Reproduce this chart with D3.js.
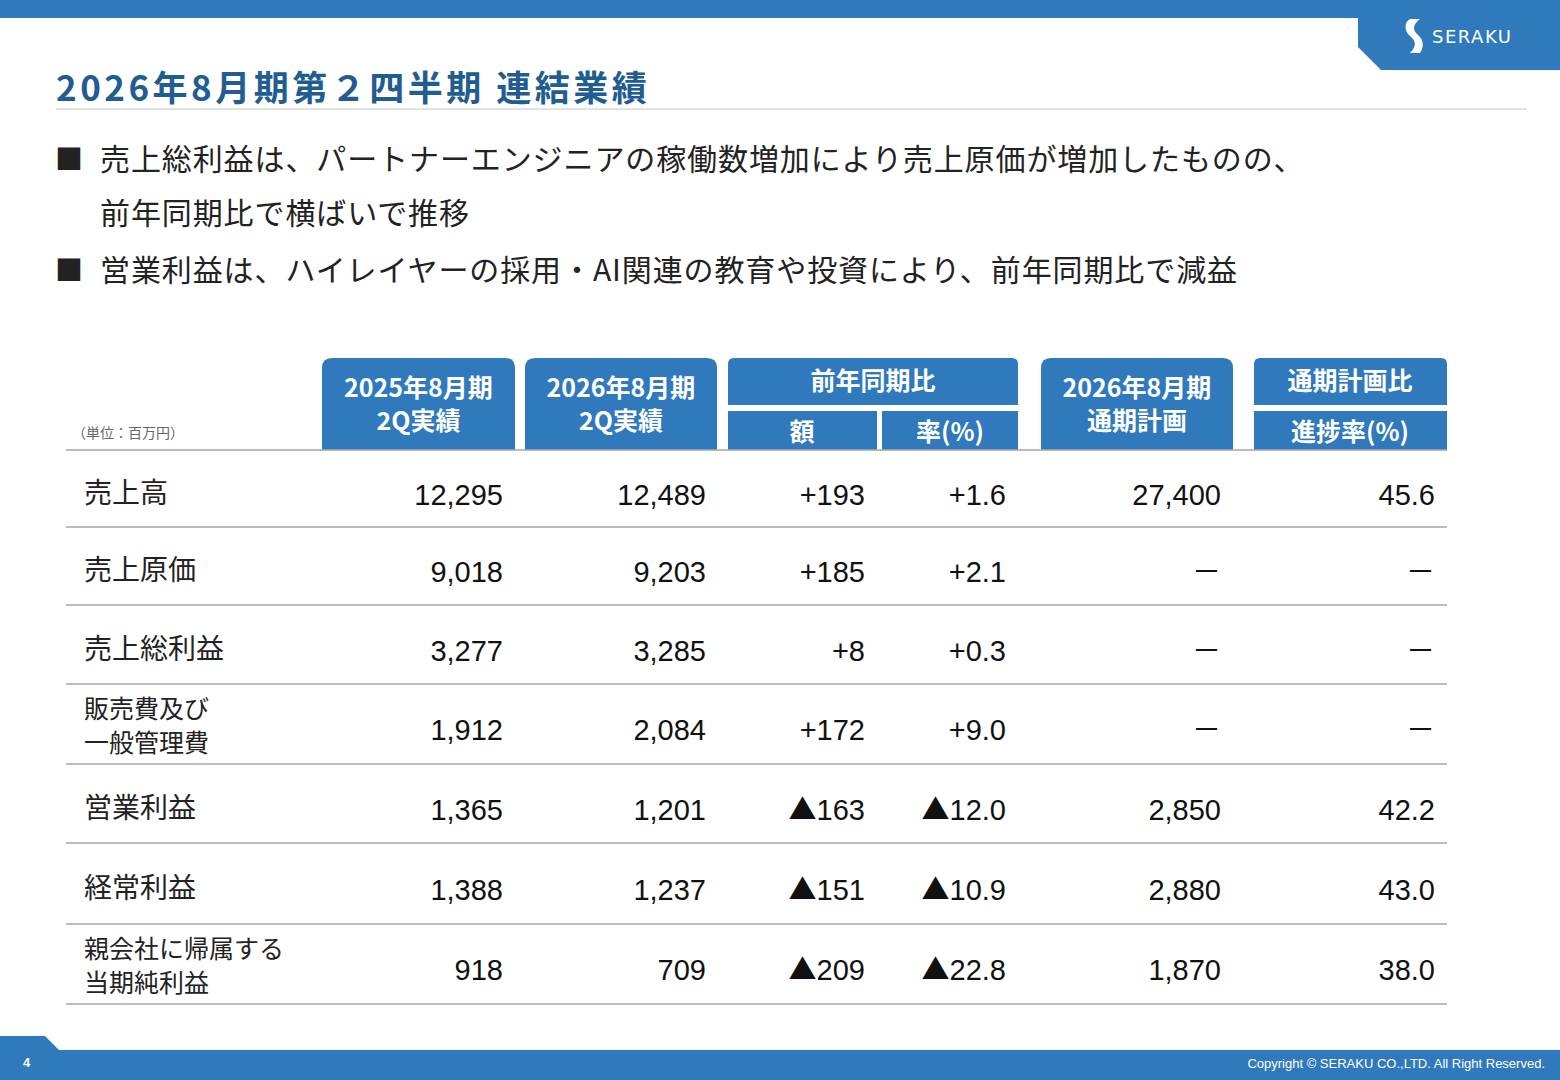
<!DOCTYPE html><html><head><meta charset="utf-8"><script src="https://cdn.jsdelivr.net/npm/d3@7"></script>
<style>body{margin:0;background:#fff}svg{display:block}</style></head><body><svg id="c" width="1560" height="1080"></svg>
<script>
const title="2026年8月期第２四半期 連結業績";
const bullets=[["■","売上総利益は、パートナーエンジニアの稼働数増加により売上原価が増加したものの、"],["","前年同期比で横ばいで推移"],["■","営業利益は、ハイレイヤーの採用・AI関連の教育や投資により、前年同期比で減益"]];
const rowLabels=[["売上高"],["売上原価"],["売上総利益"],["販売費及び","一般管理費"],["営業利益"],["経常利益"],["親会社に帰属する","当期純利益"]];
const prev2Q=["12,295","9,018","3,277","1,912","1,365","1,388","918"];
const curr2Q=["12,489","9,203","3,285","2,084","1,201","1,237","709"];
const diffAmt=["+193","+185","+8","+172","▲163","▲151","▲209"];
const diffRate=["+1.6","+2.1","+0.3","+9.0","▲12.0","▲10.9","▲22.8"];
const plan=["27,400","－","－","－","2,850","2,880","1,870"];
const progress=["45.6","－","－","－","42.2","43.0","38.0"];
const blue="#3079bd";
const svg=d3.select("#c");
const F="'Noto Sans CJK JP','Noto Sans',sans-serif";
const FN="'Liberation Sans',Arial,sans-serif";
svg.append("rect").attr("x",0).attr("y",0).attr("width",1560).attr("height",18).attr("fill",blue);
svg.append("path").attr("d","M1358,0H1560V70H1381L1358,47Z").attr("fill",blue);
svg.append("path").attr("d","M1410,19 C1404,22 1404,31 1410,36 C1416,41 1417,46 1410,53 L1420,53 C1424,47 1424,40 1418,35 C1412,30 1413,24 1420,19Z").attr("fill","#fff");
svg.append("text").attr("x",1432).attr("y",43).attr("font-family","'DejaVu Sans',sans-serif").attr("font-size",18).attr("letter-spacing",1.5).attr("fill","#fff").text("SERAKU");
svg.append("text").attr("x",56).attr("y",101).attr("font-family",F).attr("font-weight",700).attr("font-size",35).attr("letter-spacing",3.5).attr("fill","#215d90").text(title);
svg.append("line").attr("x1",56).attr("x2",1527).attr("y1",109).attr("y2",109).attr("stroke","#d9d9d9").attr("stroke-width",1.5);
const by=[170,224,281];
bullets.forEach((b,i)=>{
 svg.append("text").attr("x",55).attr("y",by[i]).attr("font-family",F).attr("font-size",28).attr("fill","#222").text(b[0]);
 svg.append("text").attr("x",100).attr("y",by[i]).attr("font-family",F).attr("font-size",30).attr("letter-spacing",0.9).attr("fill","#222").text(b[1]);
});
function hbox(x,y,w,h,r){return `M${x},${y+h}V${y+r}Q${x},${y} ${x+r},${y}H${x+w-r}Q${x+w},${y} ${x+w},${y+r}V${y+h}Z`;}
const hb=[[322,193],[525,192],[1041,192]];
const hText=[["2025年8月期","2Q実績"],["2026年8月期","2Q実績"],["2026年8月期","通期計画"]];
hb.forEach((b,i)=>{
 svg.append("path").attr("d",hbox(b[0],358,b[1],92,10)).attr("fill",blue);
 hText[i].forEach((t,j)=>svg.append("text").attr("x",b[0]+b[1]/2).attr("y",397+j*33).attr("text-anchor","middle").attr("font-family",F).attr("font-weight",700).attr("font-size",25).attr("fill","#fff").text(t));
});
svg.append("path").attr("d",hbox(728,358,290,47,6)).attr("fill",blue);
svg.append("rect").attr("x",728).attr("y",411).attr("width",149).attr("height",39).attr("fill",blue);
svg.append("rect").attr("x",882).attr("y",411).attr("width",136).attr("height",39).attr("fill",blue);
svg.append("path").attr("d",hbox(1254,358,193,47,6)).attr("fill",blue);
svg.append("rect").attr("x",1254).attr("y",411).attr("width",193).attr("height",39).attr("fill",blue);
[[873,390,"前年同期比"],[802,441,"額"],[950,441,"率(%)"],[1350,390,"通期計画比"],[1350,441,"進捗率(%)"]].forEach(d=>
 svg.append("text").attr("x",d[0]).attr("y",d[1]).attr("text-anchor","middle").attr("font-family",F).attr("font-weight",700).attr("font-size",25).attr("fill","#fff").text(d[2]));
svg.append("text").attr("x",72).attr("y",438).attr("font-family",F).attr("font-size",14).attr("fill","#666").text("（単位：百万円）");
const lines=[450,527,605,684,764,843,924,1004];
const rowScale=d3.scaleOrdinal().domain(d3.range(7)).range(d3.range(7).map(i=>(lines[i]+lines[i+1])/2));
svg.selectAll("line.r").data(lines).join("line").attr("x1",66).attr("x2",1447).attr("y1",d=>d).attr("y2",d=>d).attr("stroke","#a6a6a6").attr("stroke-width",1.5);
const cols=[[prev2Q,503],[curr2Q,706],[diffAmt,865],[diffRate,1006],[plan,1221],[progress,1435]];
rowLabels.forEach((l,i)=>{
 const cy=rowScale(i);
 if(l.length===1) svg.append("text").attr("x",84).attr("y",cy+14).attr("font-family",F).attr("font-size",28).attr("fill","#222").text(l[0]);
 else l.forEach((t,j)=>svg.append("text").attr("x",84).attr("y",cy-6+j*34).attr("font-family",F).attr("font-size",25).attr("fill","#222").text(t));
 cols.forEach(c=>{
  const v=c[0][i];
  const t=svg.append("text").attr("x",c[1]).attr("y",cy+16).attr("text-anchor","end").attr("font-family",v==="－"?F:FN).attr("font-size",29).attr("fill","#111");
  if(v.startsWith("▲")){t.append("tspan").attr("font-family",F).attr("font-size",28).text("▲");t.append("tspan").text(v.slice(1));}
  else t.text(v);
 });
});
svg.append("path").attr("d","M0,1036H45L59,1050H1560V1080H0Z").attr("fill",blue);
svg.append("text").attr("x",23).attr("y",1067).attr("font-family",FN).attr("font-weight",700).attr("font-size",13).attr("fill","#fff").text("4");
svg.append("text").attr("x",1545).attr("y",1068).attr("text-anchor","end").attr("font-family",FN).attr("font-size",13).attr("fill","#fff").text("Copyright © SERAKU CO.,LTD. All Right Reserved.");
</script></body></html>
